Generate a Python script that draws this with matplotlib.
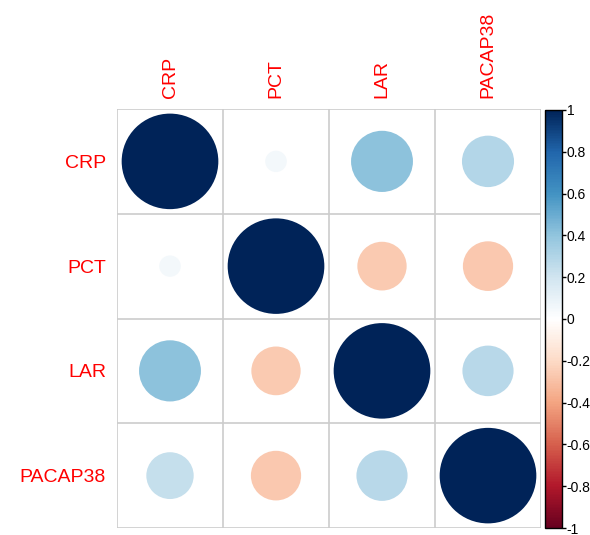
import numpy as np
import matplotlib.pyplot as plt
from matplotlib.colors import LinearSegmentedColormap, Normalize
from matplotlib.patches import Circle
from matplotlib.cm import ScalarMappable

plt.rcParams['font.family'] = ['Liberation Sans', 'DejaVu Sans']

labels = ['CRP', 'PCT', 'LAR', 'PACAP38']

# correlation matrix, one row per variable
row_crp = [1.00, 0.05, 0.41, 0.29]
row_pct = [0.05, 1.00, -0.26, -0.27]
row_lar = [0.41, -0.26, 1.00, 0.28]
row_pacap = [0.24, -0.27, 0.28, 1.00]
corr = np.array([row_crp, row_pct, row_lar, row_pacap])

cbar_ticks = [-1, -0.8, -0.6, -0.4, -0.2, 0, 0.2, 0.4, 0.6, 0.8, 1]
cbar_labels = ['-1', '-0.8', '-0.6', '-0.4', '-0.2', '0', '0.2', '0.4', '0.6', '0.8', '1']

# corrplot's RdBu palette
cmap = LinearSegmentedColormap.from_list('corr', [
    '#67001F', '#B2182B', '#D6604D', '#F4A582', '#FDDBC7', '#FFFFFF',
    '#D1E5F0', '#92C5DE', '#4393C3', '#2166AC', '#002358'])
norm = Normalize(-1, 1)

fig = plt.figure(figsize=(5.9, 5.35), dpi=100)
ax = fig.add_axes([117 / 590, 7 / 535, 424 / 590, 419 / 535])

n = len(labels)
for i in range(n):
    for j in range(n):
        r = corr[i, j]
        ax.add_patch(Circle((j, i), 0.456 * np.sqrt(abs(r)),
                            facecolor=cmap(norm(r)), edgecolor='none'))

for k in range(n + 1):
    ax.axhline(k - 0.5, color='#CCCCCC', lw=1.2)
    ax.axvline(k - 0.5, color='#CCCCCC', lw=1.2)

ax.set_xlim(-0.5, n - 0.5)
ax.set_ylim(n - 0.5, -0.5)
ax.set_xticks(range(n))
ax.set_yticks(range(n))
ax.xaxis.tick_top()
ax.set_xticklabels(labels, rotation=90, color='red', fontsize=14)
ax.set_yticklabels(labels, color='red', fontsize=14)
ax.tick_params(length=0, pad=8)
for s in ax.spines.values():
    s.set_visible(False)

cax = fig.add_axes([545 / 590, 7 / 535, 17 / 590, 418 / 535])
sm = ScalarMappable(norm=norm, cmap=cmap)
cb = fig.colorbar(sm, cax=cax, ticks=cbar_ticks)
cb.ax.set_yticklabels(cbar_labels)
cb.ax.tick_params(labelsize=10, length=3, width=1, direction='out', pad=0.5)
cb.outline.set_linewidth(1)

fig.savefig('out.png', dpi=100)
